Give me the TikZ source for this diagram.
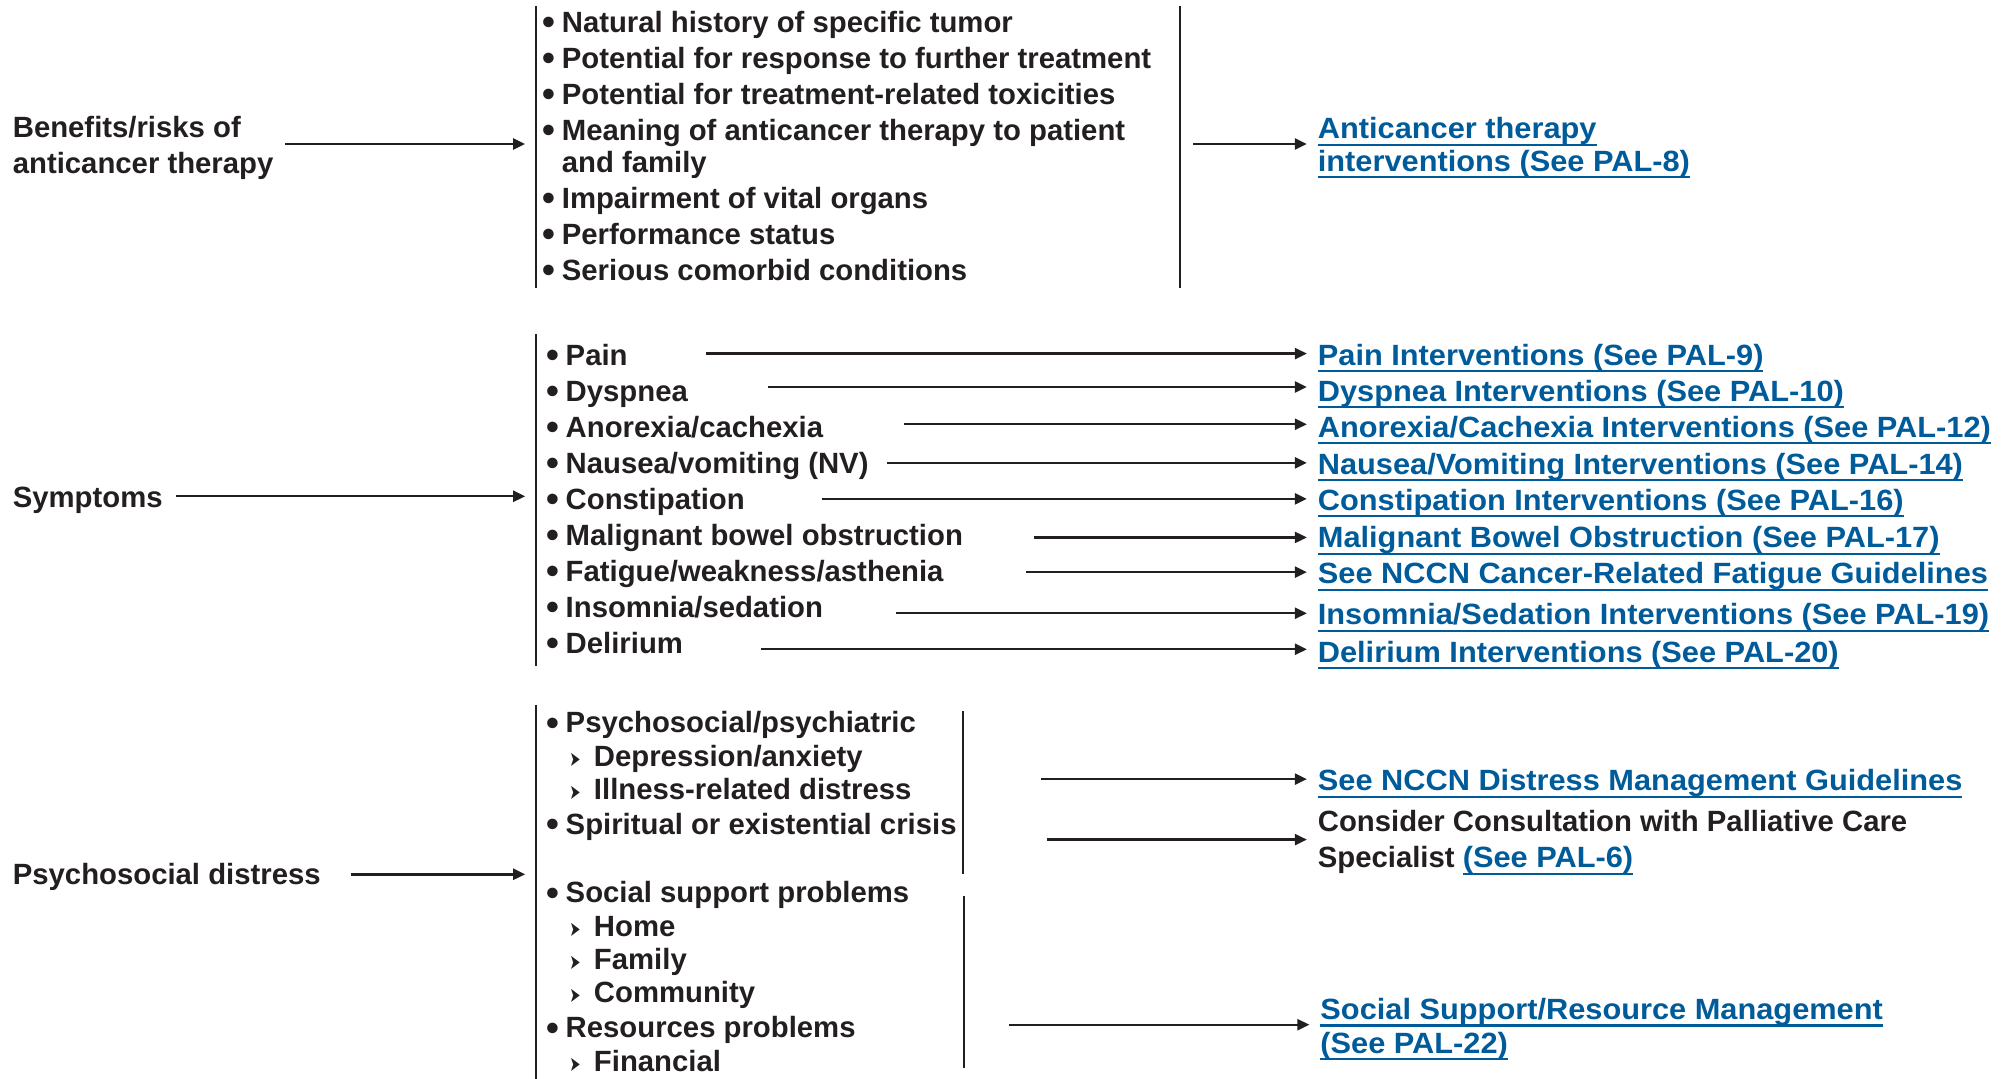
\documentclass[tikz,border=0pt]{standalone}
\usepackage{fontspec}
\setmainfont{Liberation Sans}
\newfontfamily\linkfont{Liberation Sans}[FakeStretch=1.05]
\newfontfamily\symf{DejaVu Sans}
\usetikzlibrary{arrows.meta}
\definecolor{ink}{HTML}{231F20}
\definecolor{linkblue}{HTML}{005B9A}
% list markers and underlined references
\newsavebox\lkbox
\newcommand\blt{\makebox[19.3pt][l]{\raisebox{-2.5pt}{\scalebox{1.25}{\textbullet}}}}
\newcommand\subm{\makebox[24.4pt][l]{\raisebox{0pt}{\scalebox{0.62}[1]{\symf\fontsize{21}{21}\selectfont ➤}}}}
\newcommand\lk[1]{\sbox\lkbox{#1}\rlap{\rule[-7pt]{\wd\lkbox}{2.2pt}}\usebox\lkbox}
\begin{document}
\begin{tikzpicture}[x=1.2857pt,y=-1.2857pt,
  txt/.style={anchor=base west, inner sep=0pt, outer sep=0pt, text=ink,
    font=\bfseries\fontsize{29.3}{36}\selectfont},
  lnk/.style={anchor=base west, inner sep=0pt, outer sep=0pt, text=linkblue,
    font=\linkfont\bfseries\fontsize{29.3}{36}\selectfont},
  arr/.style={draw=ink, line width=2.4pt, -{Triangle[length=12pt,width=11pt]}},
  bar/.style={draw=ink, line width=2.2pt}]
\useasboundingbox (0,0) rectangle (1568,839);

% ---------- Benefits / risks of anticancer therapy ----------
\node[txt] (ben1) at (10,107) {Benefits/risks of};
\node[txt] (ben2) at (10,135) {anticancer therapy};
\coordinate (g1t) at (417,5);
\coordinate (g1b) at (417,224);
\draw[bar] (g1t) -- (g1b);
\coordinate (a1s) at (222,112);
\draw[arr] (a1s) -- ([xshift=-11pt]a1s -| g1t);

\node[txt] (f1) at (422,25)  {\blt Natural history of specific tumor};
\node[txt] (f2) at (422,53)  {\blt Potential for response to further treatment};
\node[txt] (f3) at (422,81)  {\blt Potential for treatment-related toxicities};
\node[txt] (f4) at (422,109) {\blt Meaning of anticancer therapy to patient};
\node[txt] (f4b) at (437,134) {and family};
\node[txt] (f5) at (422,162) {\blt Impairment of vital organs};
\node[txt] (f6) at (422,190) {\blt Performance status};
\node[txt] (f7) at (422,218) {\blt Serious comorbid conditions};

\coordinate (g2t) at (918,5);
\coordinate (g2b) at (918,224);
\draw[bar] (g2t) -- (g2b);
\node[lnk] (t1a) at (1025,108) {\lk{Anticancer therapy}};
\node[lnk] (t1b) at (1025,133) {\lk{interventions (See PAL-8)}};
\coordinate (a2s) at (928,112);
\draw[arr] (a2s) -- ([xshift=-11pt]a2s -| t1a.west);

% ---------- Symptoms ----------
\node[txt] (sym) at (10,395) {Symptoms};
\coordinate (g3t) at (417,260);
\coordinate (g3b) at (417,518);
\draw[bar] (g3t) -- (g3b);
\coordinate (a3s) at (137,386);
\draw[arr] (a3s) -- ([xshift=-11pt]a3s -| g3t);

\node[txt] (s1) at (425,284) {\blt Pain};
\node[txt] (s2) at (425,312) {\blt Dyspnea};
\node[txt] (s3) at (425,340) {\blt Anorexia/cachexia};
\node[txt] (s4) at (425,368) {\blt Nausea/vomiting (NV)};
\node[txt] (s5) at (425,396) {\blt Constipation};
\node[txt] (s6) at (425,424) {\blt Malignant bowel obstruction};
\node[txt] (s7) at (425,452) {\blt Fatigue/weakness/asthenia};
\node[txt] (s8) at (425,480) {\blt Insomnia/sedation};
\node[txt] (s9) at (425,508) {\blt Delirium};

\node[lnk] (r1) at (1025,284) {\lk{Pain Interventions (See PAL-9)}};
\node[lnk] (r2) at (1025,312) {\lk{Dyspnea Interventions (See PAL-10)}};
\node[lnk] (r3) at (1025,340) {\lk{Anorexia/Cachexia Interventions (See PAL-12)}};
\node[lnk] (r4) at (1025,369) {\lk{Nausea/Vomiting Interventions (See PAL-14)}};
\node[lnk] (r5) at (1025,397) {\lk{Constipation Interventions (See PAL-16)}};
\node[lnk] (r6) at (1025,426) {\lk{Malignant Bowel Obstruction (See PAL-17)}};
\node[lnk] (r7) at (1025,454) {\lk{See NCCN Cancer-Related Fatigue Guidelines}};
\node[lnk] (r8) at (1025,486) {\lk{Insomnia/Sedation Interventions (See PAL-19)}};
\node[lnk] (r9) at (1025,515) {\lk{Delirium Interventions (See PAL-20)}};

\coordinate (c1) at (549,275);
\coordinate (c2) at (597,301);
\coordinate (c3) at (703,330);
\coordinate (c4) at (690,360);
\coordinate (c5) at (639,388);
\coordinate (c6) at (804,418);
\coordinate (c7) at (798,445);
\coordinate (c8) at (697,477);
\coordinate (c9) at (592,505);
\foreach \i in {1,...,9}
  \draw[arr] (c\i) -- ([xshift=-11pt]c\i -| r\i.west);

% ---------- Psychosocial distress ----------
\node[txt] (psy) at (10,688) {Psychosocial distress};
\coordinate (g4t) at (417,548);
\coordinate (g4b) at (417,839);
\draw[bar] (g4t) -- (g4b);
\coordinate (a4s) at (273,680);
\draw[arr] (a4s) -- ([xshift=-11pt]a4s -| g4t);

\node[txt] (p1)  at (425,570) {\blt Psychosocial/psychiatric};
\node[txt] (p1a) at (443,596) {\subm Depression/anxiety};
\node[txt] (p1b) at (443,622) {\subm Illness-related distress};
\node[txt] (p2)  at (425,649) {\blt Spiritual or existential crisis};
\node[txt] (p3)  at (425,702) {\blt Social support problems};
\node[txt] (p3a) at (443,728) {\subm Home};
\node[txt] (p3b) at (443,754) {\subm Family};
\node[txt] (p3c) at (443,780) {\subm Community};
\node[txt] (p4)  at (425,807) {\blt Resources problems};
\node[txt] (p4a) at (443,833) {\subm Financial};

\coordinate (h1t) at (749,553);
\coordinate (h1b) at (749,680);
\draw[bar] (h1t) -- (h1b);
\coordinate (h2t) at (750,697);
\coordinate (h2b) at (750,831);
\draw[bar] (h2t) -- (h2b);

\node[lnk] (q1)  at (1025,615) {\lk{See NCCN Distress Management Guidelines}};
\node[txt] (q2)  at (1025,647) {Consider Consultation with Palliative Care};
\node[txt] (q2b) at (1025,675) {Specialist {\linkfont\color{linkblue}\lk{(See PAL-6)}}};
\node[lnk] (q3)  at (1027,793) {\lk{Social Support/Resource Management}};
\node[lnk] (q3b) at (1027,819) {\lk{(See PAL-22)}};

\coordinate (d1) at (810,606);
\coordinate (d2) at (814,653);
\coordinate (d3) at (785,797);
\draw[arr] (d1) -- ([xshift=-11pt]d1 -| q1.west);
\draw[arr] (d2) -- ([xshift=-11pt]d2 -| q2.west);
\draw[arr] (d3) -- ([xshift=-11pt]d3 -| q3.west);
\end{tikzpicture}
\end{document}
